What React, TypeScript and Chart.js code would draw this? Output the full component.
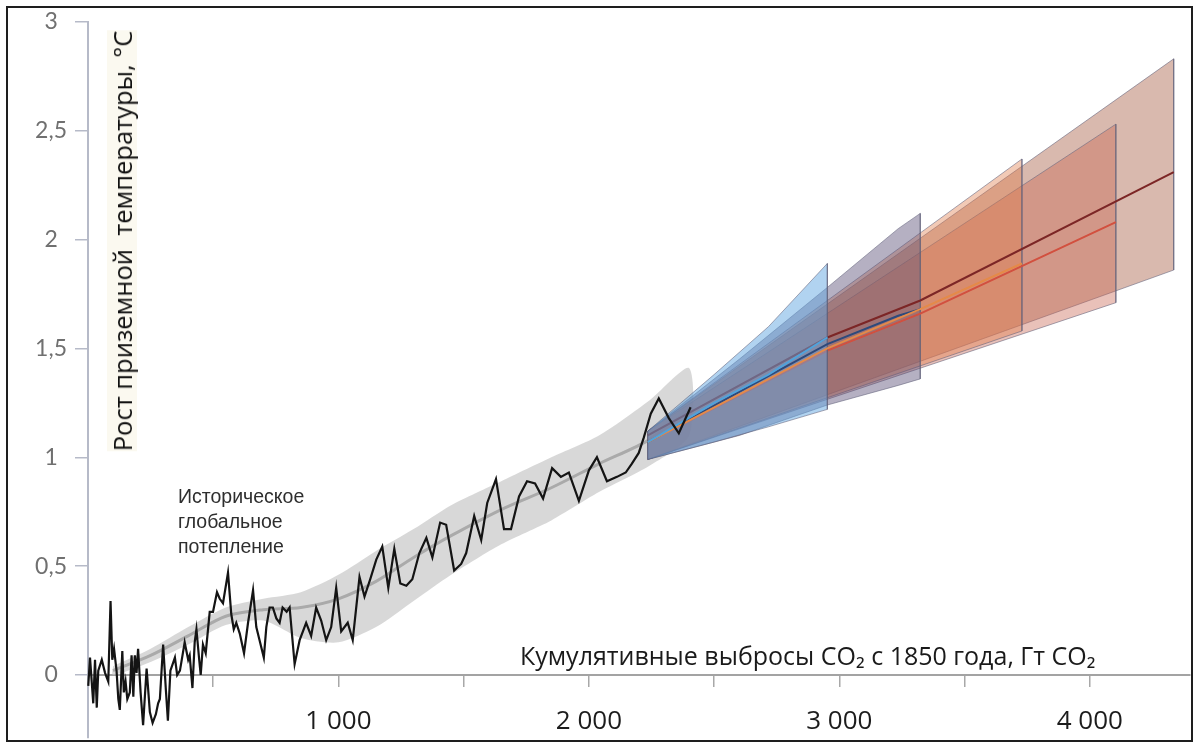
import React, { useEffect, useRef } from 'react';
import { Chart, registerables } from 'chart.js';

Chart.register(...registerables);

// ---- Historical observed warming (cumulative CO2 since 1850, GtCO2 ; warming °C)
const histEmissions = [
  1, 8, 21, 28, 35, 41, 55, 68, 81, 90, 97, 104, 114, 121, 127, 137, 143, 150, 157, 167,
  174, 181, 187, 194, 200, 210, 220, 234, 247, 258, 271, 280, 287, 300, 311, 319, 329, 347, 356, 367,
  373, 386, 400, 406, 417, 426, 433, 444, 450, 459, 470, 486, 499, 515, 526, 539, 559, 572, 582, 592,
  606, 623, 639, 659, 672, 685, 702, 712, 725, 738, 752, 765, 777, 793, 805, 825, 845, 871, 891, 911,
  931, 951, 971, 991, 1011, 1037, 1057, 1084, 1104, 1127, 1151, 1175, 1199, 1223, 1247, 1271, 1295, 1323, 1351, 1375,
  1406, 1430, 1462, 1490, 1510, 1542, 1570, 1594, 1629, 1661, 1689, 1721, 1753, 1785, 1817, 1853, 1888, 1920, 1960, 2000,
  2032, 2072, 2112, 2147, 2171, 2199, 2219, 2247, 2279, 2319, 2359, 2406,
];
const histWarming = [
  -0.05, 0.08, -0.13, 0.07, -0.15, 0.02, 0.07, 0.01, -0.03, 0.34, 0.07, 0.12, 0.02, -0.11, -0.16, 0.11, -0.08, -0.03, -0.11, -0.08,
  0.09, -0.10, 0.09, 0.01, 0.12, -0.08, -0.23, 0.03, -0.17, -0.22, -0.18, -0.13, -0.11, 0.14, -0.07, -0.21, 0.02, 0.08, 0.0, 0.02,
  0.06, 0.15, 0.07, 0.09, -0.06, 0.15, 0.21, 0.07, 0.0, 0.14, 0.10, 0.29, 0.29, 0.38, 0.35, 0.33, 0.47, 0.28, 0.21, 0.24,
  0.19, 0.10, 0.24, 0.39, 0.22, 0.16, 0.08, 0.22, 0.31, 0.31, 0.26, 0.24, 0.31, 0.29, 0.31, 0.05, 0.16, 0.24, 0.18, 0.31,
  0.25, 0.16, 0.22, 0.40, 0.20, 0.24, 0.16, 0.45, 0.36, 0.44, 0.53, 0.59, 0.40, 0.58, 0.42, 0.41, 0.44, 0.56, 0.63, 0.54,
  0.70, 0.69, 0.48, 0.51, 0.56, 0.73, 0.62, 0.79, 0.90, 0.67, 0.67, 0.82, 0.89, 0.88, 0.81, 0.95, 0.91, 0.93, 0.80, 0.94,
  1.00, 0.89, 0.91, 0.93, 0.97, 1.02, 1.09, 1.20, 1.27, 1.18, 1.11, 1.23,
];

// ---- Historical smoothed estimate with uncertainty band
const smoothEmissions = [100, 250, 400, 550, 700, 850, 1000, 1150, 1300, 1450, 1650, 1850, 2040, 2240, 2400];
const smoothLow = [0.0, 0.06, 0.14, 0.23, 0.25, 0.17, 0.15, 0.22, 0.34, 0.46, 0.6, 0.71, 0.84, 0.96, 1.1];
const smoothMid = [0.02, 0.09, 0.18, 0.27, 0.3, 0.31, 0.35, 0.43, 0.54, 0.64, 0.76, 0.86, 0.97, 1.08, 1.22];
const smoothHigh = [0.04, 0.12, 0.22, 0.31, 0.35, 0.38, 0.46, 0.57, 0.67, 0.78, 0.89, 1.0, 1.1, 1.26, 1.41];

// ---- Projections (to 2050) : ranges and central estimates
const s119Emissions = [2235, 2500, 2717, 2952];
const s119Low = [0.99, 1.07, 1.14, 1.22];
const s119High = [1.12, 1.38, 1.6, 1.89];
const s119Mid = [1.07, 1.25, 1.38, 1.55];

const s126Emissions = [2235, 2600, 2952, 3235, 3323];
const s126Low = [0.99, 1.1, 1.24, 1.33, 1.36];
const s126High = [1.12, 1.45, 1.78, 2.05, 2.12];
const s126Mid = [1.07, 1.3, 1.52, 1.65, 1.68];

const s245Emissions = [2235, 3729];
const s245Low = [0.99, 1.58];
const s245High = [1.12, 2.37];
const s245MidEmissions = [2235, 2952, 3323, 3729];
const s245Mid = [1.07, 1.5, 1.68, 1.89];

const s370Emissions = [2235, 4104];
const s370Low = [0.99, 1.71];
const s370High = [1.12, 2.53];
const s370MidEmissions = [2235, 2952, 3323, 4104];
const s370Mid = [1.07, 1.49, 1.66, 2.08];

const s585Emissions = [2235, 4335];
const s585Low = [0.99, 1.86];
const s585High = [1.12, 2.83];
const s585MidEmissions = [2235, 2952, 3323, 4335];
const s585Mid = [1.1, 1.55, 1.72, 2.31];

const xTickPositions = [0, 500, 1000, 1500, 2000, 2500, 3000, 3500, 4000];
const xTickValues = [1000, 2000, 3000, 4000];
const xTickLabels = ['1 000', '2 000', '3 000', '4 000'];
const yTickValues = [0, 0.5, 1, 1.5, 2, 2.5, 3];
const yTickLabels = ['0', '0,5', '1', '1,5', '2', '2,5', '3'];
const yAxisBottom = -0.29;

const yTitle = 'Рост приземной  температуры, °C';
const xTitle = 'Кумулятивные выбросы CO₂ с 1850 года, Гт CO₂';
const noteLines = ['Историческое', 'глобальное', 'потепление'];

const pts = (xs: number[], ys: number[]) => xs.map((x, i) => ({ x, y: ys[i] }));
const polygon = (xs: number[], lo: number[], hi: number[]) => {
  const up = pts(xs, hi);
  const down = pts(xs, lo).reverse();
  return [...up, ...down, up[0]];
};

const AXIS_GRAY = '#b6bac8';

// extends the y axis line below zero (the x axis sits at y = 0)
const yAxisExtension = {
  id: 'yAxisExtension',
  beforeDatasetsDraw(chart: any) {
    const { ctx, chartArea, scales } = chart;
    const y = scales.y;
    ctx.save();
    ctx.strokeStyle = AXIS_GRAY;
    ctx.lineWidth = 2;
    ctx.beginPath();
    ctx.moveTo(chartArea.left, y.getPixelForValue(0));
    ctx.lineTo(chartArea.left, y.getPixelForValue(yAxisBottom));
    ctx.stroke();
    ctx.restore();
  },
};

export default function App() {
  const ref = useRef<HTMLCanvasElement | null>(null);

  useEffect(() => {
    if (!ref.current) return;
    const bandBorder = 'rgba(95, 95, 120, 0.55)';
    const band = (data: any[], color: string, order: number) => ({
      data,
      fill: 'shape',
      backgroundColor: color,
      borderColor: bandBorder,
      borderWidth: 1,
      pointRadius: 0,
      clip: false,
      order,
    });
    const line = (data: any[], color: string, width: number, order: number) => ({
      data,
      fill: false,
      borderColor: color,
      borderWidth: width,
      pointRadius: 0,
      clip: false,
      order,
    });

    const chart = new Chart(ref.current, {
      type: 'line',
      data: {
        datasets: [
          line(pts(histEmissions, histWarming), '#141414', 2.2, 0),
          line(pts(s119Emissions, s119Mid), '#4fa3dc', 2, 1),
          line(pts(s245MidEmissions, s245Mid), '#e58a48', 2, 2),
          line(pts(s126Emissions, s126Mid), '#2d4a7c', 2, 3),
          band(polygon(s119Emissions, s119Low, s119High), 'rgba(100, 168, 225, 0.5)', 10),
          line(pts(s370MidEmissions, s370Mid), '#d2503f', 2, 11),
          line(pts(s585MidEmissions, s585Mid), '#7c2626', 2, 12),
          band(polygon(s126Emissions, s126Low, s126High), 'rgba(90, 80, 120, 0.45)', 13),
          band(polygon(s245Emissions, s245Low, s245High), 'rgba(222, 122, 72, 0.4)', 14),
          band(polygon(s370Emissions, s370Low, s370High), 'rgba(200, 100, 80, 0.4)', 15),
          band(polygon(s585Emissions, s585Low, s585High), 'rgba(170, 100, 75, 0.45)', 16),
          { ...line(pts(smoothEmissions, smoothMid), '#aaaaaa', 3, 20), tension: 0.3 },
          {
            data: polygon(smoothEmissions, smoothLow, smoothHigh),
            fill: 'shape',
            backgroundColor: 'rgba(200, 200, 200, 0.7)',
            borderWidth: 0,
            borderColor: 'rgba(0,0,0,0)',
            pointRadius: 0,
            tension: 0.25,
            clip: false,
            order: 21,
          },
        ] as any,
      },
      plugins: [yAxisExtension],
      options: {
        animation: false,
        responsive: false,
        maintainAspectRatio: false,
        events: [],
        layout: { padding: { left: 0, right: 9, top: 21, bottom: 10 } },
        plugins: { legend: { display: false }, tooltip: { enabled: false } },
        elements: { point: { radius: 0 }, line: { tension: 0 } },
        scales: {
          x: {
            type: 'linear',
            position: 'bottom',
            min: 0,
            max: 4400,
            afterBuildTicks: (s: any) => {
              s.ticks = xTickPositions.map((value) => ({ value }));
            },
            afterFit: (s: any) => {
              s.height = 63;
            },
            grid: { drawOnChartArea: false, drawTicks: true, tickLength: 12, color: '#a8a8a8', lineWidth: 1.5 },
            border: { display: true, color: '#a3a3a3', width: 2 },
            ticks: {
              autoSkip: false,
              maxRotation: 0,
              padding: 19,
              color: '#1c1c1c',
              font: { family: '"Open Sans", sans-serif', size: 26 },
              callback: (v: any) => {
                const i = xTickValues.indexOf(Math.round(Number(v)));
                return i >= 0 ? xTickLabels[i] : '';
              },
            },
          },
          y: {
            type: 'linear',
            min: 0,
            max: 3,
            afterFit: (s: any) => {
              s.width = 88;
            },
            grid: { drawOnChartArea: false, drawTicks: true, tickLength: 13, color: AXIS_GRAY, lineWidth: 1.5 },
            border: { display: true, color: AXIS_GRAY, width: 2 },
            ticks: {
              stepSize: 0.5,
              crossAlign: 'center',
              padding: 8,
              color: '#707070',
              font: { family: 'Lato, sans-serif', size: 23 },
              callback: (v: any) => {
                const i = yTickValues.indexOf(Number(v));
                return i >= 0 ? yTickLabels[i] : '';
              },
            },
          },
        },
      },
    });
    return () => chart.destroy();
  }, []);

  return (
    <div style={{ position: 'absolute', left: 0, top: 0, width: 1199, height: 748, background: '#fff', overflow: 'hidden' }}>
      <canvas ref={ref} width={1199} height={748} style={{ display: 'block', width: 1199, height: 748 }} />
      <div
        style={{
          position: 'absolute',
          left: 122,
          top: 241,
          transform: 'translate(-50%, -50%) rotate(-90deg)',
          whiteSpace: 'pre',
          fontFamily: '"Open Sans", sans-serif',
          fontSize: 25.5,
          color: '#111',
          background: '#fbf9f0',
          lineHeight: '30px',
        }}
      >
        {yTitle}
      </div>
      <div
        style={{
          position: 'absolute',
          left: 520,
          top: 638,
          whiteSpace: 'nowrap',
          fontFamily: '"Open Sans", sans-serif',
          fontSize: 25,
          color: '#1a1a1a',
          lineHeight: '34px',
        }}
      >
        {xTitle}
      </div>
      <div
        style={{
          position: 'absolute',
          left: 178,
          top: 484,
          fontFamily: '"Liberation Sans", Arial, sans-serif',
          fontSize: 19.5,
          color: '#2e2e2e',
          lineHeight: '25px',
        }}
      >
        {noteLines.map((t) => (
          <div key={t}>{t}</div>
        ))}
      </div>
      <div
        style={{
          position: 'absolute',
          left: 6,
          top: 6,
          width: 1187,
          height: 736,
          boxSizing: 'border-box',
          border: '2px solid #1e1e1e',
          pointerEvents: 'none',
        }}
      />
    </div>
  );
}
